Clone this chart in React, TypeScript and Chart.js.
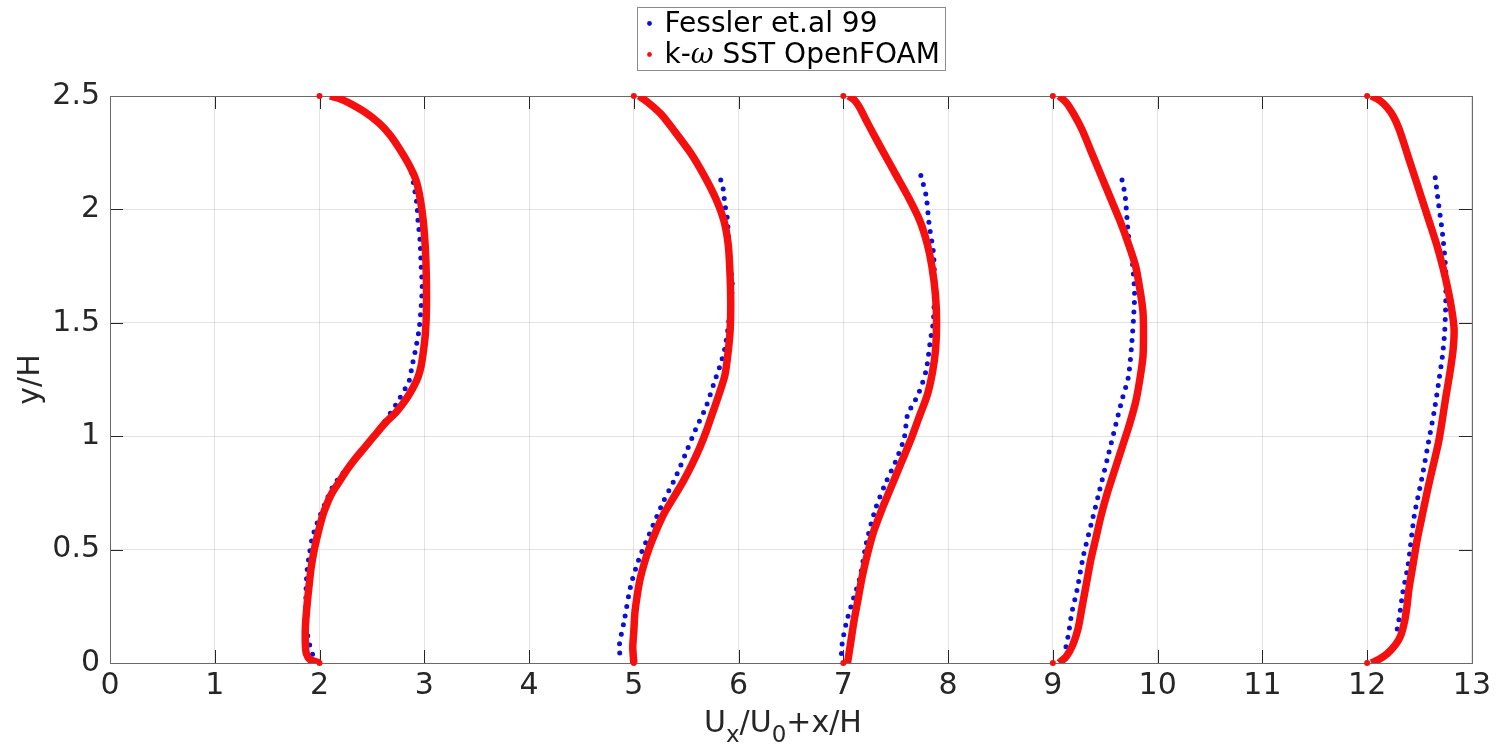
import { useEffect, useRef } from 'react';
import { Chart, registerables } from 'chart.js';

Chart.register(...registerables);

// ---- axis ticks ----
const xTickValues = [0, 1, 2, 3, 4, 5, 6, 7, 8, 9, 10, 11, 12, 13];
const yTickValues = [0, 0.5, 1, 1.5, 2, 2.5];
const yTickLabels = ['0', '0.5', '1', '1.5', '2', '2.5'];

// ---- series labels ----
const expLabel = 'Fessler et.al 99';
const cfdLabel = 'k-ω SST OpenFOAM';

// ---- profile offsets (x/H stations) ----
const profileOffsets = [2, 5, 7, 9, 12];
const wallY = [0, 2.5];

// ---- Fessler et.al 99 (experiment) ----
const expX2 = [2.88, 2.91, 2.93, 2.94, 2.96, 2.97, 2.98, 2.97, 2.95, 2.92, 2.88, 2.86, 2.83, 2.73, 2.57, 2.38, 2.21, 2.13, 2.05, 1.98, 1.93, 1.9, 1.88, 1.87, 1.87, 1.9, 1.94, 1.96];
const expY2 = [2.16, 2.08, 2.02, 1.95, 1.86, 1.75, 1.66, 1.57, 1.47, 1.39, 1.3, 1.25, 1.22, 1.14, 1.03, 0.92, 0.83, 0.78, 0.7, 0.62, 0.55, 0.47, 0.4, 0.3, 0.18, 0.09, 0.03, 0.01];

const expX5 = [5.83, 5.85, 5.87, 5.89, 5.91, 5.93, 5.94, 5.9, 5.87, 5.83, 5.77, 5.69, 5.59, 5.5, 5.4, 5.28, 5.15, 5.05, 4.97, 4.91, 4.86, 4.88];
const expY5 = [2.13, 2.1, 2.02, 1.97, 1.83, 1.72, 1.66, 1.48, 1.39, 1.32, 1.24, 1.13, 1.03, 0.93, 0.82, 0.71, 0.57, 0.46, 0.34, 0.19, 0.07, 0.01];

const expX7 = [7.74, 7.79, 7.82, 7.86, 7.87, 7.86, 7.83, 7.79, 7.72, 7.64, 7.61, 7.58, 7.5, 7.4, 7.3, 7.22, 7.16, 7.08, 7.03, 6.99, 6.98];
const expY7 = [2.15, 2.06, 1.93, 1.81, 1.68, 1.51, 1.42, 1.29, 1.19, 1.12, 1.09, 0.99, 0.89, 0.79, 0.67, 0.53, 0.38, 0.26, 0.18, 0.09, 0.03];

const expX9 = [9.66, 9.69, 9.72, 9.76, 9.78, 9.77, 9.75, 9.72, 9.66, 9.6, 9.52, 9.44, 9.37, 9.29, 9.23, 9.18, 9.15, 9.12];
const expY9 = [2.13, 2.06, 1.89, 1.76, 1.63, 1.52, 1.39, 1.26, 1.16, 1.05, 0.9, 0.75, 0.62, 0.47, 0.32, 0.22, 0.13, 0.06];

const expX12 = [12.65, 12.68, 12.72, 12.75, 12.75, 12.74, 12.72, 12.68, 12.64, 12.58, 12.52, 12.45, 12.39, 12.34, 12.31, 12.28];
const expY12 = [2.14, 2.03, 1.89, 1.73, 1.59, 1.46, 1.36, 1.23, 1.11, 0.96, 0.81, 0.65, 0.43, 0.31, 0.21, 0.13];

// ---- k-omega SST OpenFOAM (simulation) ----
const cfdX2 = [2.1, 2.18, 2.28, 2.43, 2.57, 2.67, 2.76, 2.85, 2.92, 2.96, 2.99, 3.01, 3.02, 3.02, 3.01, 2.99, 2.97, 2.94, 2.9, 2.85, 2.79, 2.72, 2.63, 2.52, 2.43, 2.34, 2.26, 2.19, 2.12, 2.07, 2.03, 1.99, 1.95, 1.92, 1.9, 1.88, 1.865, 1.865, 1.875, 1.91, 2.0];
const cfdY2 = [2.5, 2.49, 2.47, 2.43, 2.38, 2.33, 2.27, 2.2, 2.13, 2.05, 1.95, 1.83, 1.69, 1.55, 1.45, 1.37, 1.31, 1.26, 1.22, 1.18, 1.14, 1.1, 1.06, 1.0, 0.95, 0.9, 0.85, 0.8, 0.75, 0.7, 0.65, 0.58, 0.5, 0.42, 0.34, 0.25, 0.16, 0.08, 0.04, 0.015, 0.0];

const cfdX5 = [5.05, 5.14, 5.26, 5.38, 5.54, 5.67, 5.78, 5.86, 5.9, 5.915, 5.925, 5.92, 5.9, 5.87, 5.81, 5.75, 5.69, 5.63, 5.55, 5.47, 5.38, 5.29, 5.21, 5.15, 5.1, 5.06, 5.03, 5.01, 5.0, 4.99, 5.0];
const cfdY5 = [2.5, 2.47, 2.42, 2.35, 2.25, 2.15, 2.05, 1.95, 1.85, 1.75, 1.6, 1.47, 1.37, 1.27, 1.18, 1.1, 1.02, 0.95, 0.87, 0.8, 0.73, 0.66, 0.58, 0.51, 0.44, 0.37, 0.29, 0.22, 0.14, 0.07, 0.0];

const cfdX7 = [7.05, 7.11, 7.155, 7.21, 7.29, 7.385, 7.505, 7.625, 7.73, 7.8, 7.845, 7.88, 7.89, 7.88, 7.85, 7.8, 7.72, 7.64, 7.55, 7.46, 7.37, 7.29, 7.23, 7.18, 7.14, 7.1, 7.07, 7.04];
const cfdY7 = [2.5, 2.48, 2.45, 2.4, 2.33, 2.25, 2.15, 2.05, 1.95, 1.85, 1.75, 1.62, 1.5, 1.38, 1.28, 1.18, 1.08, 0.98, 0.88, 0.78, 0.68, 0.58, 0.48, 0.38, 0.28, 0.18, 0.09, 0.0];

const cfdX9 = [9.06, 9.13, 9.2, 9.28, 9.37, 9.46, 9.55, 9.64, 9.72, 9.79, 9.83, 9.86, 9.865, 9.86, 9.83, 9.79, 9.73, 9.66, 9.59, 9.52, 9.46, 9.41, 9.36, 9.32, 9.28, 9.24, 9.19, 9.13, 9.06];
const cfdY9 = [2.5, 2.47, 2.42, 2.35, 2.25, 2.15, 2.05, 1.95, 1.85, 1.75, 1.65, 1.55, 1.45, 1.35, 1.25, 1.15, 1.05, 0.95, 0.85, 0.75, 0.65, 0.55, 0.45, 0.35, 0.25, 0.15, 0.08, 0.03, 0.0];

const cfdX12 = [12.04, 12.12, 12.19, 12.25, 12.3, 12.345, 12.4, 12.45, 12.52, 12.59, 12.66, 12.72, 12.77, 12.81, 12.83, 12.82, 12.79, 12.75, 12.71, 12.68, 12.63, 12.58, 12.53, 12.48, 12.44, 12.4, 12.38, 12.36, 12.32, 12.27, 12.19, 12.11, 12.04];
const cfdY12 = [2.5, 2.48, 2.45, 2.41, 2.36, 2.3, 2.22, 2.15, 2.05, 1.95, 1.85, 1.75, 1.65, 1.55, 1.47, 1.38, 1.28, 1.17, 1.05, 0.97, 0.87, 0.77, 0.66, 0.55, 0.44, 0.33, 0.25, 0.19, 0.12, 0.08, 0.04, 0.015, 0.0];

const expProfiles = [[expX2, expY2], [expX5, expY5], [expX7, expY7], [expX9, expY9], [expX12, expY12]];
const cfdProfiles = [[cfdX2, cfdY2], [cfdX5, cfdY5], [cfdX7, cfdY7], [cfdX9, cfdY9], [cfdX12, cfdY12]];

const expColor = '#0a10d8';
const cfdColor = '#f51010';
const FONT = "'DejaVu Sans', 'Liberation Sans', sans-serif";

const toPoints = (xs: number[], ys: number[]) => xs.map((x, i) => ({ x, y: ys[i] }));

const framePlugin = {
  id: 'frame',
  beforeDatasetsDraw(chart: any) {
    const { ctx, chartArea: ca, scales } = chart;
    ctx.save();
    ctx.strokeStyle = '#262626';
    ctx.lineWidth = 1;
    const tl = 13;
    ctx.beginPath();
    xTickValues.forEach((v) => {
      const px = Math.round(scales.x.getPixelForValue(v)) + 0.5;
      ctx.moveTo(px, ca.bottom);
      ctx.lineTo(px, ca.bottom - tl);
      ctx.moveTo(px, ca.top);
      ctx.lineTo(px, ca.top + tl);
    });
    yTickValues.forEach((v) => {
      const py = Math.round(scales.y.getPixelForValue(v)) + 0.5;
      ctx.moveTo(ca.left, py);
      ctx.lineTo(ca.left + tl, py);
      ctx.moveTo(ca.right, py);
      ctx.lineTo(ca.right - tl, py);
    });
    ctx.stroke();
    ctx.strokeStyle = '#6a6a6a';
    ctx.strokeRect(Math.round(ca.left) + 0.5, Math.round(ca.top) + 0.5, Math.round(ca.right - ca.left), Math.round(ca.bottom - ca.top));
    ctx.restore();
  },
};

const overlayPlugin = {
  id: 'overlay',
  afterDraw(chart: any) {
    const { ctx, chartArea: ca } = chart;
    const cx = (ca.left + ca.right) / 2;
    ctx.save();
    // ---- legend ----
    const boxW = 308;
    const boxH = 63;
    const bl = Math.round(cx - boxW / 2) + 0.5;
    const bt = 7.5;
    ctx.fillStyle = '#ffffff';
    ctx.fillRect(bl, bt, boxW, boxH);
    ctx.strokeStyle = '#8c8c8c';
    ctx.lineWidth = 1;
    ctx.strokeRect(bl, bt, boxW, boxH);
    const rows = [
      { label: expLabel, color: expColor, base: bt + 24 },
      { label: cfdLabel, color: cfdColor, base: bt + 55 },
    ];
    ctx.textBaseline = 'alphabetic';
    ctx.textAlign = 'left';
    rows.forEach((r) => {
      ctx.fillStyle = r.color;
      ctx.beginPath();
      ctx.arc(bl + 12, r.base - 8, 2.4, 0, Math.PI * 2);
      ctx.fill();
      ctx.fillStyle = '#000000';
      let x = bl + 27;
      const parts = r.label.split('ω');
      parts.forEach((p, i) => {
        ctx.font = `28px ${FONT}`;
        ctx.fillText(p, x, r.base);
        x += ctx.measureText(p).width;
        if (i < parts.length - 1) {
          ctx.font = `italic 28px 'DejaVu Serif', serif`;
          ctx.fillText('ω', x, r.base);
          x += ctx.measureText('ω').width;
        }
      });
    });
    // ---- x axis title with subscripts ----
    const titleParts: [string, boolean][] = [['U', false], ['x', true], ['/U', false], ['0', true], ['+x/H', false]];
    const mainFont = `30px ${FONT}`;
    const subFont = `23px ${FONT}`;
    let total = 0;
    titleParts.forEach(([t, sub]) => {
      ctx.font = sub ? subFont : mainFont;
      total += ctx.measureText(t).width;
    });
    let tx = cx - 8 - total / 2;
    const baseY = 732;
    ctx.fillStyle = '#262626';
    titleParts.forEach(([t, sub]) => {
      ctx.font = sub ? subFont : mainFont;
      ctx.fillText(t, tx, sub ? baseY + 10 : baseY);
      tx += ctx.measureText(t).width;
    });
    ctx.restore();
  },
};

export default function App() {
  const canvasRef = useRef<HTMLCanvasElement | null>(null);

  useEffect(() => {
    if (!canvasRef.current) return;
    const datasets: any[] = [];
    cfdProfiles.forEach(([xs, ys], i) => {
      datasets.push({
        type: 'line',
        label: i === 0 ? cfdLabel : '',
        data: toPoints(xs, ys),
        borderColor: cfdColor,
        backgroundColor: cfdColor,
        borderWidth: 7.5,
        pointRadius: 0,
        tension: 0.25,
        fill: false,
        order: 0,
      });
    });
    datasets.push({
      type: 'line',
      label: '',
      data: profileOffsets.flatMap((x) => wallY.map((y) => ({ x, y }))),
      showLine: false,
      pointRadius: 3,
      pointBorderWidth: 0,
      pointBackgroundColor: cfdColor,
      borderColor: cfdColor,
      clip: false,
      order: 0,
    });
    expProfiles.forEach(([xs, ys], i) => {
      datasets.push({
        type: 'line',
        label: i === 0 ? expLabel : '',
        data: toPoints(xs, ys),
        borderColor: expColor,
        backgroundColor: expColor,
        borderWidth: 5,
        borderDash: [0, 9.5],
        borderCapStyle: 'round',
        pointRadius: 0,
        tension: 0.25,
        fill: false,
        order: 1,
      });
    });

    const chart = new Chart(canvasRef.current, {
      type: 'line',
      data: { datasets },
      options: {
        animation: false,
        responsive: true,
        maintainAspectRatio: false,
        layout: { padding: { top: 96, right: 24, left: 0, bottom: 0 } },
        plugins: { legend: { display: false }, tooltip: { enabled: false }, title: { display: false } },
        scales: {
          x: {
            type: 'linear',
            min: 0,
            max: 13,
            afterBuildTicks: (scale: any) => {
              scale.ticks = xTickValues.map((v) => ({ value: v }));
            },
            afterFit: (scale: any) => {
              scale.height = 84;
            },
            ticks: {
              font: { family: FONT, size: 30 },
              color: '#262626',
              padding: 5,
              maxRotation: 0,
              autoSkip: false,
              callback: (v: any) => String(v),
            },
            grid: { color: 'rgba(38,38,38,0.13)', drawTicks: false, lineWidth: 1 },
            border: { display: false },
          },
          y: {
            type: 'linear',
            min: 0,
            max: 2.5,
            afterBuildTicks: (scale: any) => {
              scale.ticks = yTickValues.map((v) => ({ value: v }));
            },
            afterFit: (scale: any) => {
              scale.width = 110;
            },
            ticks: {
              font: { family: FONT, size: 30 },
              color: '#262626',
              padding: 10,
              autoSkip: false,
              callback: (v: any) => {
                const idx = yTickValues.indexOf(Number(v));
                return idx >= 0 ? yTickLabels[idx] : String(v);
              },
            },
            title: {
              display: true,
              text: 'y/H',
              font: { family: FONT, size: 30 },
              color: '#262626',
              padding: { top: 13, bottom: 0 },
            },
            grid: { color: 'rgba(38,38,38,0.13)', drawTicks: false, lineWidth: 1 },
            border: { display: false },
          },
        },
      },
      plugins: [framePlugin, overlayPlugin],
    });
    return () => chart.destroy();
  }, []);

  return (
    <div style={{ position: 'fixed', left: 0, top: 0, width: 1496, height: 747, background: '#ffffff' }}>
      <canvas ref={canvasRef} />
    </div>
  );
}
